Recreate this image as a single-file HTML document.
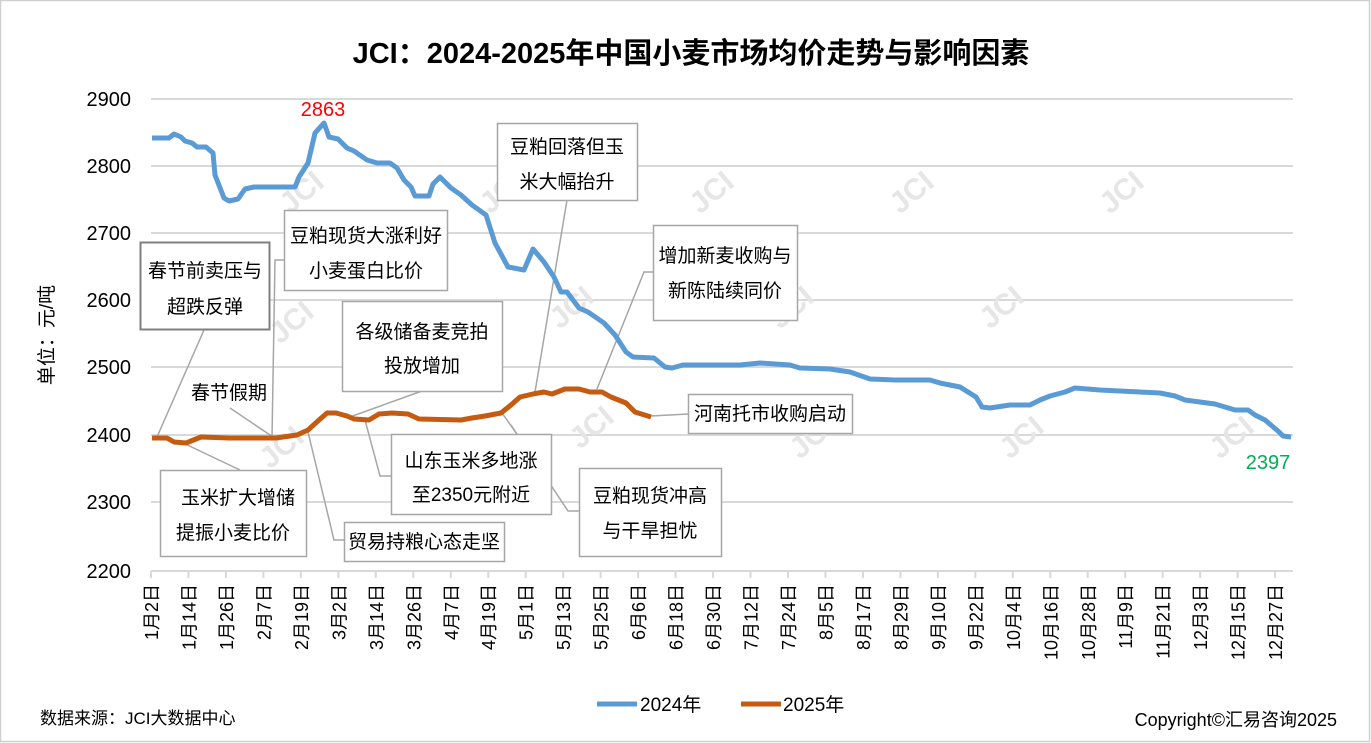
<!DOCTYPE html>
<html><head><meta charset="utf-8"><style>
html,body{margin:0;padding:0;background:#fff}
svg{display:block;font-family:"Liberation Sans","Noto Sans CJK SC",sans-serif}
</style></head><body>
<svg width="1371" height="743" viewBox="0 0 1371 743" xmlns="http://www.w3.org/2000/svg">
<rect x="0.5" y="0.5" width="1369" height="741" fill="#fff" stroke="#d0d0d0" stroke-width="1.5"/>
<text x="691" y="63" text-anchor="middle" font-size="29" font-weight="bold" fill="#000">JCI：2024-2025年中国小麦市场均价走势与影响因素</text>
<g stroke="#d9d9d9" stroke-width="2">
<line x1="151" y1="99" x2="1293" y2="99"/><line x1="151" y1="166" x2="1293" y2="166"/>
<line x1="151" y1="233" x2="1293" y2="233"/><line x1="151" y1="300" x2="1293" y2="300"/>
<line x1="151" y1="367" x2="1293" y2="367"/><line x1="151" y1="435" x2="1293" y2="435"/>
<line x1="151" y1="502" x2="1293" y2="502"/><line x1="151" y1="571" x2="1293" y2="571"/>
</g>
<g id="wm" font-size="30" fill="#e6e6e6" font-weight="bold"></g>
<g font-size="20" text-anchor="end" fill="#000">
<text x="131" y="106">2900</text><text x="131" y="173">2800</text><text x="131" y="240">2700</text>
<text x="131" y="307">2600</text><text x="131" y="374">2500</text><text x="131" y="442">2400</text>
<text x="131" y="509">2300</text><text x="131" y="578">2200</text>
</g>
<text transform="translate(53,335) rotate(-90)" text-anchor="middle" font-size="19">单位：元/吨</text>
<g id="ticks" stroke="#d9d9d9" stroke-width="2"></g>
<g id="xl" font-size="18" fill="#000"></g>
<g stroke="#a6a6a6" stroke-width="1.5" fill="none">
<polyline points="204,330 157,437"/>
<polyline points="230,408 273,437"/>
<polyline points="284,260 275,260 272,438"/>
<polyline points="422,391 347,418"/>
<polyline points="567,200 535,392"/>
<polyline points="653,272 644,272 597,389"/>
<polyline points="688,414 651,416"/>
<polyline points="181,442 240,470"/>
<polyline points="308,432 334,540 344,540"/>
<polyline points="365,420 380,476 391,476"/>
<polyline points="502,413 519,437"/>
<polyline points="511,425 568,511 579,511"/>
</g>
<polyline fill="none" stroke="#5b9bd5" stroke-width="5" stroke-linejoin="round" points="152,138 169,138 174,134 181,137 185,141 192,143 197,147 206,147 213,153 215,175 224,198 229,201 238,199 245,189 254,187 295,187 299,177 308,163 315,133 324,123 329,137 338,139 347,148 354,151 367,160 377,163 390,163 397,168 404,180 411,187 415,196 429,196 433,184 440,177 451,188 461,195 472,205 486,215 495,243 508,267 524,270 533,249 544,262 554,277 561,292 567,292 579,308 588,312 604,323 615,335 626,352 633,357 654,358 665,367 672,368 683,365 700,365 740,365 760,363 790,365 800,368 830,369 850,372 870,379 895,380 930,380 940,383 960,387 976,397 982,407 990,408 1010,405 1030,405 1040,400 1050,396 1065,392 1075,388 1100,390 1140,392 1160,393 1175,396 1185,400 1200,402 1215,404 1225,407 1235,410 1248,410 1255,415 1265,420 1278,431 1283,436 1291,437"/>
<polyline fill="none" stroke="#c55a11" stroke-width="5" stroke-linejoin="round" points="152,438 167,438 174,442 186,443 201,437 229,438 276,438 283,437 297,435 308,430 319,420 327,413 336,413 347,416 354,419 369,420 379,414 392,413 408,414 419,419 461,420 472,418 485,416 501,413 511,405 520,397 533,394 544,392 552,394 565,389 579,389 590,392 602,392 611,397 626,403 635,412 651,417"/>
<text x="323" y="116" text-anchor="middle" font-size="20" fill="#ff0000">2863</text>
<text x="1268" y="469" text-anchor="middle" font-size="20" fill="#00b050">2397</text>
<g font-size="19" text-anchor="middle" fill="#000">
<rect x="140.5" y="242.5" width="129" height="87" fill="#fff" stroke="#7f7f7f" stroke-width="2"/>
<text x="205" y="277">春节前卖压与</text><text x="205" y="313">超跌反弹</text>
<text x="229" y="399">春节假期</text>
<rect x="284.5" y="210.5" width="163" height="80" fill="#fff" stroke="#a6a6a6" stroke-width="1.5"/>
<text x="366" y="242">豆粕现货大涨利好</text><text x="366" y="277">小麦蛋白比价</text>
<rect x="342.5" y="301.5" width="160" height="90" fill="#fff" stroke="#a6a6a6" stroke-width="1.5"/>
<text x="422" y="338">各级储备麦竞拍</text><text x="422" y="372">投放增加</text>
<rect x="497.5" y="123.5" width="140" height="77" fill="#fff" stroke="#a6a6a6" stroke-width="1.5"/>
<text x="567" y="153">豆粕回落但玉</text><text x="567" y="188">米大幅抬升</text>
<rect x="653.5" y="225.5" width="144" height="95" fill="#fff" stroke="#a6a6a6" stroke-width="1.5"/>
<text x="725" y="262">增加新麦收购与</text><text x="725" y="297">新陈陆续同价</text>
<rect x="688.5" y="394.5" width="164" height="39" fill="#fff" stroke="#a6a6a6" stroke-width="1.5"/>
<text x="770" y="420">河南托市收购启动</text>
<rect x="391.5" y="434.5" width="160" height="80" fill="#fff" stroke="#a6a6a6" stroke-width="1.5"/>
<text x="471" y="467">山东玉米多地涨</text><text x="471" y="501">至2350元附近</text>
<rect x="579.5" y="468.5" width="142" height="88" fill="#fff" stroke="#a6a6a6" stroke-width="1.5"/>
<text x="650" y="502">豆粕现货冲高</text><text x="650" y="537">与干旱担忧</text>
<rect x="160.5" y="470.5" width="146" height="86" fill="#fff" stroke="#a6a6a6" stroke-width="1.5"/>
<text x="238" y="504">玉米扩大增储</text><text x="233" y="539">提振小麦比价</text>
<rect x="344.5" y="522.5" width="160" height="39" fill="#fff" stroke="#a6a6a6" stroke-width="1.5"/>
<text x="424" y="548">贸易持粮心态走坚</text>
</g>
<line x1="597" y1="704" x2="637" y2="704" stroke="#5b9bd5" stroke-width="5"/>
<text x="640" y="711" font-size="19">2024年</text>
<line x1="741" y1="704" x2="781" y2="704" stroke="#c55a11" stroke-width="5"/>
<text x="783" y="711" font-size="19">2025年</text>
<text x="40" y="724" font-size="17">数据来源：JCI大数据中心</text>
<text x="1337" y="726" font-size="18" text-anchor="end">Copyright©汇易咨询2025</text>
</svg>
<script>
(function(){
var ns="http://www.w3.org/2000/svg";
var labels=["1月2日","1月14日","1月26日","2月7日","2月19日","3月2日","3月14日","3月26日","4月7日","4月19日","5月1日","5月13日","5月25日","6月6日","6月18日","6月30日","7月12日","7月24日","8月5日","8月17日","8月29日","9月10日","9月22日","10月4日","10月16日","10月28日","11月9日","11月21日","12月3日","12月15日","12月27日"];
var t=document.getElementById("ticks"),g=document.getElementById("xl");
for(var i=0;i<31;i++){
 var x=151+37.47*i;
 var l=document.createElementNS(ns,"line");
 l.setAttribute("x1",x);l.setAttribute("x2",x);l.setAttribute("y1",571);l.setAttribute("y2",578);
 t.appendChild(l);
 var tx=document.createElementNS(ns,"text");
 tx.setAttribute("transform","translate("+(x+7)+",584) rotate(-90)");
 tx.setAttribute("text-anchor","end");
 tx.textContent=labels[i];
 g.appendChild(tx);
}
var wm=document.getElementById("wm");
var pos=[[290,215],[490,215],[700,215],[900,215],[1110,215],[280,345],[560,330],[780,330],[990,330],[270,470],[580,450],[800,460],[1010,460],[1220,460]];
pos.forEach(function(p){
 var tx=document.createElementNS(ns,"text");
 tx.setAttribute("transform","translate("+p[0]+","+p[1]+") rotate(-40)");
 tx.textContent="JCI";
 wm.appendChild(tx);
});
})();
</script>
</body></html>
